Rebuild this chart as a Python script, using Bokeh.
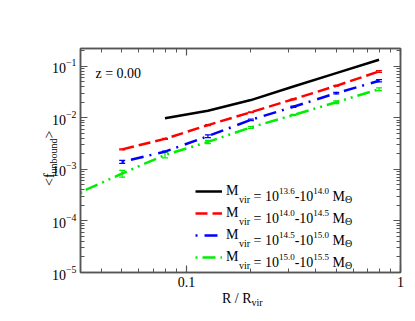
from bokeh.plotting import figure
from bokeh.models import (Range1d, LogAxis, FixedTicker, Label, Legend, LegendItem,
                          ColumnDataSource, Whisker, TeeHead, PrintfTickFormatter,
                          CustomJSTickFormatter)
from bokeh.embed import file_html
from bokeh.resources import INLINE

# ---------------- data ----------------
r_bins = [0.0316, 0.0501, 0.0794, 0.126, 0.200, 0.316, 0.501, 0.794]

f_black = [0.0098, 0.0137, 0.0220, 0.0403, 0.0734, 0.133]          # r_bins[2:]
f_red = [0.00244, 0.0039, 0.0072, 0.0128, 0.0229, 0.0416, 0.079]    # r_bins[1:]
f_blue = [0.00140, 0.0022, 0.0044, 0.0091, 0.0163, 0.0300, 0.052]   # r_bins[1:]
f_green = [0.00035, 0.00083, 0.0019, 0.0034, 0.0065, 0.0113, 0.0200, 0.0358]  # r_bins[0:]

err_red = [0.02, 0.02, 0.02, 0.02, 0.02, 0.02, 0.04]
err_blue = [0.07, 0.03, 0.06, 0.03, 0.03, 0.03, 0.05]
err_green = [0.03, 0.15, 0.12, 0.07, 0.04, 0.03, 0.06, 0.06]

mass_lo = ["13.6", "14.0", "14.5", "15.0"]
mass_hi = ["14.0", "14.5", "15.0", "15.5"]
redshift_text = "z = 0.00"

x_major = [0.1, 1.0]
x_minor = [0.04, 0.05, 0.06, 0.07, 0.08, 0.09, 0.2, 0.3, 0.4, 0.5, 0.6, 0.7, 0.8, 0.9]
y_major = [1e-5, 1e-4, 1e-3, 1e-2, 1e-1]
y_minor = [m * d for d in y_major for m in range(2, 10)]

X_MIN, X_MAX = 0.032, 1.0
Y_MIN, Y_MAX = 1e-5, 0.22

# ---------------- styling ----------------
FRAME = "#555555"
SERIF = "Liberation Serif"

p = figure(width=413, height=318, x_axis_type="log", y_axis_type="log",
           x_range=Range1d(X_MIN, X_MAX), y_range=Range1d(Y_MIN, Y_MAX),
           output_backend="svg", toolbar_location=None,
           min_border_left=80, min_border_right=13, min_border_top=48, min_border_bottom=46)
p.grid.visible = False
p.outline_line_color = FRAME
p.outline_line_width = 1.5
p.background_fill_color = "white"
p.border_fill_color = "white"

bottom_axis = p.below[0]
left_axis = p.left[0]
top_axis = LogAxis()
right_axis = LogAxis()
p.add_layout(top_axis, "above")
p.add_layout(right_axis, "right")


def style_axis(ax, ticks, minor, labels=True):
    ax.ticker = FixedTicker(ticks=ticks, minor_ticks=minor)
    ax.axis_line_color = FRAME
    ax.axis_line_width = 1.5
    ax.major_tick_line_color = FRAME
    ax.minor_tick_line_color = FRAME
    ax.major_tick_line_width = 1.2
    ax.minor_tick_line_width = 1.0
    ax.major_tick_in = 7
    ax.major_tick_out = 0
    ax.minor_tick_in = 4
    ax.minor_tick_out = 0
    ax.major_label_text_font = SERIF
    ax.major_label_text_color = "black"
    ax.major_label_text_font_size = "14px"
    if labels:
        ax.major_label_standoff = 4
    else:
        ax.formatter = CustomJSTickFormatter(code="return ''")
        ax.major_label_standoff = 0


style_axis(bottom_axis, x_major, x_minor)
bottom_axis.formatter = PrintfTickFormatter(format="%g")
style_axis(left_axis, y_major, y_minor)
style_axis(top_axis, x_major, x_minor, labels=False)
style_axis(right_axis, y_major, y_minor, labels=False)

# ---------------- series ----------------
series = [
    ("black", r_bins[2:], f_black, None, "solid"),
    ("red", r_bins[1:], f_red, err_red, "12 5"),
    ("blue", r_bins[1:], f_blue, err_blue, "2 7 13 6"),
    ("#00ee00", r_bins[0:], f_green, err_green, "2 5 13 5 2 5"),
]

renderers = []
for color, xs, ys, errs, dash in series:
    data = dict(x=xs, y=ys)
    if errs is not None:
        data["lo"] = [y * (1 - e) for y, e in zip(ys, errs)]
        data["hi"] = [y * (1 + e) for y, e in zip(ys, errs)]
    src = ColumnDataSource(data)
    r = p.line("x", "y", source=src, line_color=color, line_width=2.5, line_dash=dash)
    renderers.append(r)
    if errs is not None:
        p.add_layout(Whisker(source=src, base="x", upper="hi", lower="lo", dimension="height",
                             line_color=color, line_width=1.2,
                             upper_head=TeeHead(size=6, line_color=color, line_width=1.2),
                             lower_head=TeeHead(size=6, line_color=color, line_width=1.2)))

# legend: line samples with the first letter "M" as the item label
ROW = 22
LEG_X, LEG_Y = 115, 5
legend = Legend(items=[LegendItem(label="M", renderers=[r]) for r in renderers],
                location=(LEG_X, LEG_Y), orientation="vertical", padding=0,
                spacing=ROW - 20, margin=0,
                glyph_width=27, glyph_height=20, label_height=20, label_width=0,
                label_standoff=4, label_text_font=SERIF, label_text_font_size="14px",
                label_text_color="black",
                background_fill_alpha=0, border_line_alpha=0)
p.add_layout(legend)

# ---------------- composed texts ----------------
WID = {' ': 250, '<': 564, '>': 564, '=': 564, '-': 333, '.': 250, '/': 278,
       'M': 889, 'R': 667, 'f': 333, 'u': 500, 'n': 500, 'b': 500, 'o': 500,
       'd': 500, 'v': 500, 'i': 278, 'r': 333, 'z': 444, 'Θ': 722}


def tw(s, size):
    return sum(WID.get(c, 500) for c in s) * size / 1000.0


def compose(pieces, x_off, y_off, vertical=False, place="center"):
    cur = 0.0
    for text, size, shift in pieces:
        lead = len(text) - len(text.lstrip(" "))
        cur += tw(" " * lead, size)
        body = text.strip(" ")
        if vertical:
            lab = Label(x=X_MIN, y=Y_MIN, x_offset=x_off - shift, y_offset=y_off + cur,
                        text=body, angle=1.5707963, text_align="left",
                        text_baseline="alphabetic")
        else:
            lab = Label(x=X_MIN, y=Y_MIN, x_offset=x_off + cur, y_offset=y_off + shift,
                        text=body, text_align="left", text_baseline="alphabetic")
        lab.text_font = SERIF
        lab.text_font_size = f"{size}px"
        lab.text_color = "black"
        if place == "center":
            p.add_layout(lab)
        else:
            p.add_layout(lab, place)
        cur += tw(body, size)


# redshift
compose([(redshift_text, 14, 0)], 15, 198.7)
# x axis title
compose([("R / R", 14, 0), ("vir", 10, -3.5)], 141.5, -26.3, place="below")
# y axis title (rotated)
compose([("<f", 14, 0), ("unbound", 10, -3.5), (">", 14, 0)], -31, 86.5,
        vertical=True, place="left")
# legend texts (after the "M" drawn by the legend)
x_after_M = LEG_X + 27 + 4 + tw("M", 14)
for k, (lo, hi) in enumerate(zip(mass_lo, mass_hi)):
    yb = LEG_Y + 4 * 20 + 3 * (ROW - 20) - 10 - 4.7 - ROW * k
    compose([("vir", 10, -3.5), (" = 10", 14, 0), (lo, 9, 5.5),
             ("-10", 14, 0), (hi, 9, 5.5), (" M", 14, 0), ("Θ", 10, -3.5)], x_after_M, yb)

open("out.html", "w").write(file_html(p, INLINE))
